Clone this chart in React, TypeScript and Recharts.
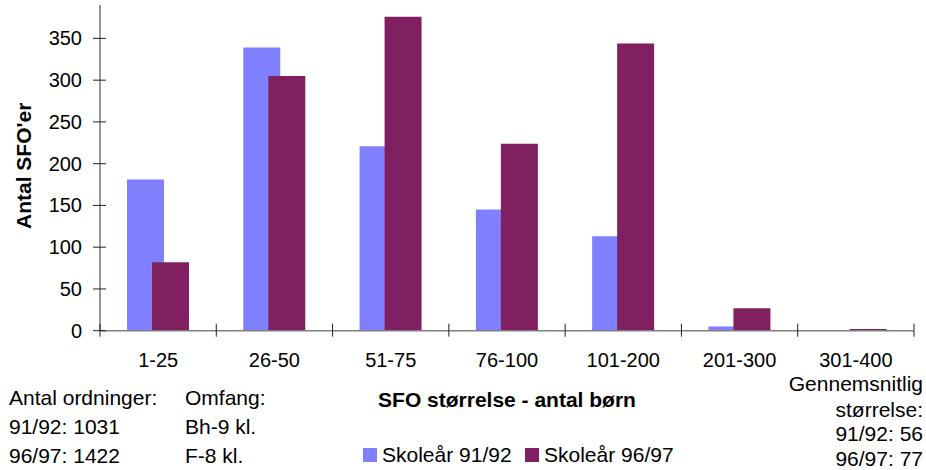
import React from 'react';
import { BarChart, Bar, XAxis, YAxis, Legend, Label } from 'recharts';

const categories = ['1-25', '26-50', '51-75', '76-100', '101-200', '201-300', '301-400'];
const skoleaar9192 = [181, 339, 221, 145, 113, 5, 0];
const skoleaar9697 = [82, 305, 376, 224, 344, 27, 2];
const yTicks = [0, 50, 100, 150, 200, 250, 300, 350];
const seriesNames = ['Skoleår 91/92', 'Skoleår 96/97'];
const seriesColors = ['#8080FF', '#802060'];
const xTitle = 'SFO størrelse - antal børn';
const yTitle = "Antal SFO'er";
const leftNotes = ['Antal ordninger:', '91/92: 1031', '96/97: 1422'];
const midNotes = ['Omfang:', 'Bh-9 kl.', 'F-8 kl.'];
const rightNotes = ['Gennemsnitlig', 'størrelse:', '91/92: 56', '96/97: 77'];

const data = categories.map((c, i) => ({ name: c, a: skoleaar9192[i], b: skoleaar9697[i] }));

const FONT = '"Liberation Sans", Arial, Helvetica, sans-serif';

const YTick = (props: any) => {
  const { x, y, payload } = props;
  return (
    <g>
      <line x1={x - 7} x2={x + 6} y1={y} y2={y} stroke="#222" strokeWidth={1} />
      <text x={x - 18} y={y + 7} textAnchor="end" fontSize={20} fill="#000" fontFamily={FONT}>
        {payload.value}
      </text>
    </g>
  );
};

const XTick = (props: any) => {
  const { x, y, payload, index, visibleTicksCount } = props;
  const half =
    payload && payload.offset
      ? payload.offset
      : props.width && visibleTicksCount
      ? props.width / visibleTicksCount / 2
      : 58.15;
  return (
    <g>
      <line x1={x - half} x2={x - half} y1={y - 7} y2={y + 6} stroke="#222" strokeWidth={1} />
      {index === visibleTicksCount - 1 && (
        <line x1={x + half} x2={x + half} y1={y - 7} y2={y + 6} stroke="#222" strokeWidth={1} />
      )}
      <text x={x} y={y + 36} textAnchor="middle" fontSize={20} fill="#000" fontFamily={FONT}>
        {payload.value}
      </text>
    </g>
  );
};

const XTitle = (props: any) => {
  const vb = props.viewBox || { x: 100, y: 330.7, width: 814 };
  return (
    <text
      x={vb.x + vb.width / 2}
      y={vb.y + 76}
      textAnchor="middle"
      fontSize={21}
      fontWeight="bold"
      fill="#000"
      fontFamily={FONT}
    >
      {xTitle}
    </text>
  );
};

const YTitle = (props: any) => {
  const vb = props.viewBox || { y: 5, height: 325.7 };
  const cx = 31.5;
  const cy = vb.y + vb.height / 2 - 2;
  return (
    <text
      x={cx}
      y={cy}
      transform={`rotate(-90, ${cx}, ${cy})`}
      textAnchor="middle"
      fontSize={21}
      fontWeight="bold"
      fill="#000"
      fontFamily={FONT}
    >
      {yTitle}
    </text>
  );
};

const renderLegend = (props: any) => {
  const items = props.payload || [];
  const starts = [0, 162];
  return (
    <svg width={330} height={24} style={{ display: 'block', overflow: 'visible' }}>
      {items.map((it: any, i: number) => (
        <g key={i}>
          <rect x={starts[i] ?? i * 162} y={4} width={14} height={14} fill={it.color} />
          <text
            x={(starts[i] ?? i * 162) + 19}
            y={17.7}
            fontSize={21}
            fill="#000"
            fontFamily={FONT}
          >
            {it.value}
          </text>
        </g>
      ))}
    </svg>
  );
};

export default function App() {
  const noteStyle = { fontSize: 21, fill: '#000', fontFamily: FONT } as any;
  const leftBase = [405, 434, 462.5];
  const rightBase = [391, 417, 441, 466];
  return (
    <div
      style={{
        position: 'absolute',
        left: 0,
        top: 0,
        width: 926,
        height: 470,
        background: '#fff',
        fontFamily: FONT,
        overflow: 'hidden',
      }}
    >
      <BarChart
        width={926}
        height={470}
        data={data}
        barGap={-12}
        margin={{ top: 5, right: 12, left: 0, bottom: 59.3 }}
      >
        <XAxis
          dataKey="name"
          height={80}
          tickSize={0}
          tickMargin={0}
          tickLine={false}
          interval={0}
          axisLine={{ stroke: '#808080', strokeWidth: 1.5 }}
          tick={<XTick />}
        >
          <Label content={<XTitle />} />
        </XAxis>
        <YAxis
          width={100}
          domain={[0, 390]}
          ticks={yTicks}
          interval={0}
          tickSize={0}
          tickMargin={0}
          tickLine={false}
          axisLine={{ stroke: '#333', strokeWidth: 1 }}
          tick={<YTick />}
        >
          <Label content={<YTitle />} />
        </YAxis>
        <Legend
          layout="horizontal"
          verticalAlign="middle"
          align="center"
          content={renderLegend}
          wrapperStyle={{ left: 363, top: 444, width: 330, height: 24 }}
        />
        <Bar dataKey="a" name={seriesNames[0]} fill={seriesColors[0]} barSize={37} isAnimationActive={false} />
        <Bar dataKey="b" name={seriesNames[1]} fill={seriesColors[1]} barSize={37} isAnimationActive={false} />
      </BarChart>
      <svg
        width={926}
        height={470}
        style={{ position: 'absolute', left: 0, top: 0, pointerEvents: 'none' }}
      >
        {leftNotes.map((t, i) => (
          <text key={'l' + i} x={9} y={leftBase[i]} {...noteStyle}>
            {t}
          </text>
        ))}
        {midNotes.map((t, i) => (
          <text key={'m' + i} x={185} y={leftBase[i]} {...noteStyle}>
            {t}
          </text>
        ))}
        {rightNotes.map((t, i) => (
          <text key={'r' + i} x={923} y={rightBase[i]} textAnchor="end" {...noteStyle}>
            {t}
          </text>
        ))}
      </svg>
    </div>
  );
}
